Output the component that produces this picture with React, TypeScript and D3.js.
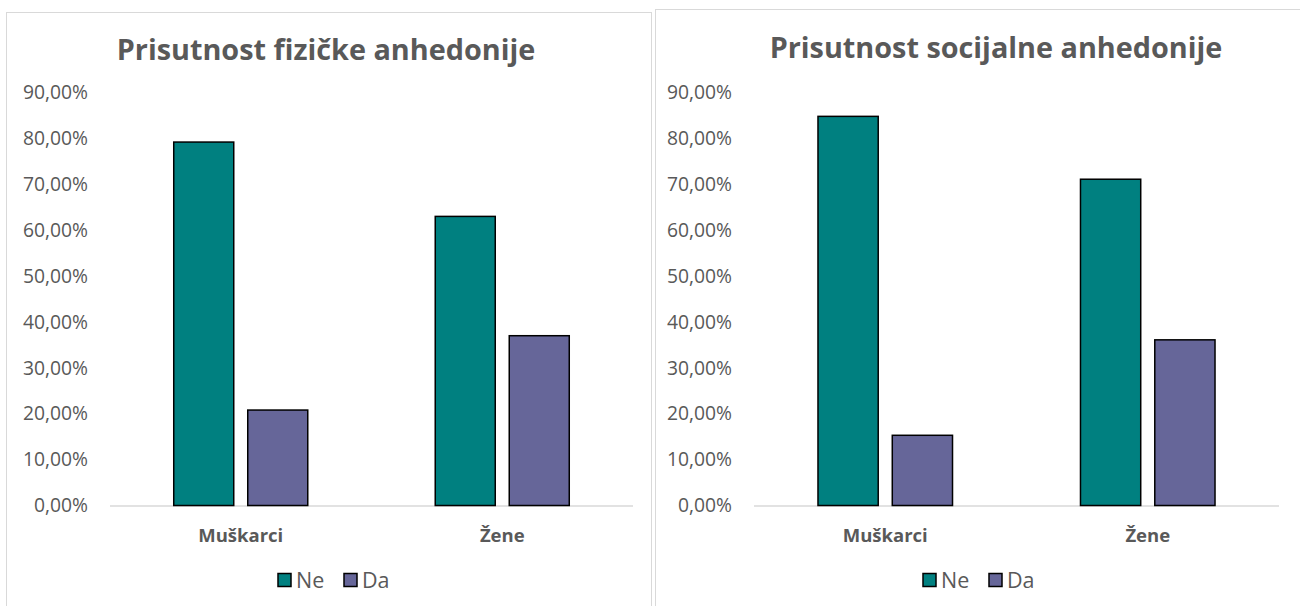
import React from "react";
import * as d3 from "d3";

const categories = ["Muškarci", "Žene"];
const seriesNames = ["Ne", "Da"];
const seriesColors = ["#008080", "#666699"];
const fizickaNe = [79.2, 63.0];
const fizickaDa = [20.8, 37.0];
const socijalnaNe = [84.8, 71.1];
const socijalnaDa = [15.3, 36.1];
const yTicks = [0, 10, 20, 30, 40, 50, 60, 70, 80, 90];
const titles = ["Prisutnost fizičke anhedonije", "Prisutnost socijalne anhedonije"];

const FONT = "'Open Sans', 'Liberation Sans', sans-serif";
const TEXT = "#595959";

type PanelProps = {
  box: { x: number; y: number; w: number; h: number };
  plot: { left: number; right: number; top: number; bottom: number };
  title: string;
  titleX: number;
  titleY: number;
  legendX: number;
  values: number[][];
};

function Panel({ box, plot, title, titleX, titleY, legendX, values }: PanelProps) {
  const y = d3.scaleLinear().domain([0, 90]).range([plot.bottom, plot.top]);
  const x0 = d3.scaleBand<string>().domain(categories).range([plot.left, plot.right]).paddingInner(0).paddingOuter(0);
  const groupW = x0.bandwidth() * 0.5125;
  const x1 = d3.scaleBand<string>().domain(seriesNames).range([0, groupW]).paddingInner(14 / 74).paddingOuter(0);
  const fmt = (v: number) => d3.format(".2f")(v).replace(".", ",") + "%";

  return (
    <g>
      <rect x={box.x + 0.5} y={box.y + 0.5} width={box.w} height={box.h} fill="#fff" stroke="#d9d9d9" strokeWidth={1} />
      <text x={titleX} y={titleY} textAnchor="middle" fontFamily={FONT} fontWeight={700} fontSize={28.8} fill={TEXT}>
        {title}
      </text>
      {yTicks.map((t) => (
        <text key={t} x={plot.left - 22} y={y(t)} dy="0.35em" textAnchor="end" fontFamily={FONT} fontSize={19.3} fill={TEXT}>
          {fmt(t)}
        </text>
      ))}
      <line x1={plot.left} x2={plot.right} y1={plot.bottom + 0.5} y2={plot.bottom + 0.5} stroke="#d9d9d9" strokeWidth={1.5} />
      {categories.map((c, ci) => {
        const gx = (x0(c) as number) + (x0.bandwidth() - groupW) / 2;
        return (
          <g key={c}>
            {seriesNames.map((s, si) => {
              const v = values[si][ci];
              return (
                <rect
                  key={s}
                  x={gx + (x1(s) as number)}
                  y={y(v)}
                  width={x1.bandwidth()}
                  height={plot.bottom - y(v)}
                  fill={seriesColors[si]}
                  stroke="#000"
                  strokeWidth={1.5}
                />
              );
            })}
            <text
              x={(x0(c) as number) + x0.bandwidth() / 2}
              y={plot.bottom + 36}
              textAnchor="middle"
              fontFamily={FONT}
              fontWeight={700}
              fontSize={18.5}
              fill={TEXT}
            >
              {c}
            </text>
          </g>
        );
      })}
      {seriesNames.map((s, si) => (
        <g key={s} transform={`translate(${legendX + si * 66},${plot.bottom + 68})`}>
          <rect x={0} y={0} width={13} height={13} fill={seriesColors[si]} stroke="#000" strokeWidth={1.5} />
          <text x={18} y={7} dy="0.35em" fontFamily={FONT} fontSize={21.5} fill={TEXT}>
            {s}
          </text>
        </g>
      ))}
    </g>
  );
}

export default function App() {
  return (
    <div style={{ position: "absolute", left: 0, top: 0 }}>
      <svg width={1300} height={606} style={{ display: "block", background: "#fff" }}>
        <Panel
          box={{ x: 6, y: 12, w: 645, h: 620 }}
          plot={{ left: 110, right: 633, top: 92.5, bottom: 505.5 }}
          title={titles[0]}
          titleX={326}
          titleY={60}
          legendX={278}
          values={[fizickaNe, fizickaDa]}
        />
        <Panel
          box={{ x: 655, y: 9, w: 680, h: 620 }}
          plot={{ left: 754, right: 1279, top: 92.5, bottom: 505.5 }}
          title={titles[1]}
          titleX={996}
          titleY={58}
          legendX={923}
          values={[socijalnaNe, socijalnaDa]}
        />
      </svg>
    </div>
  );
}
